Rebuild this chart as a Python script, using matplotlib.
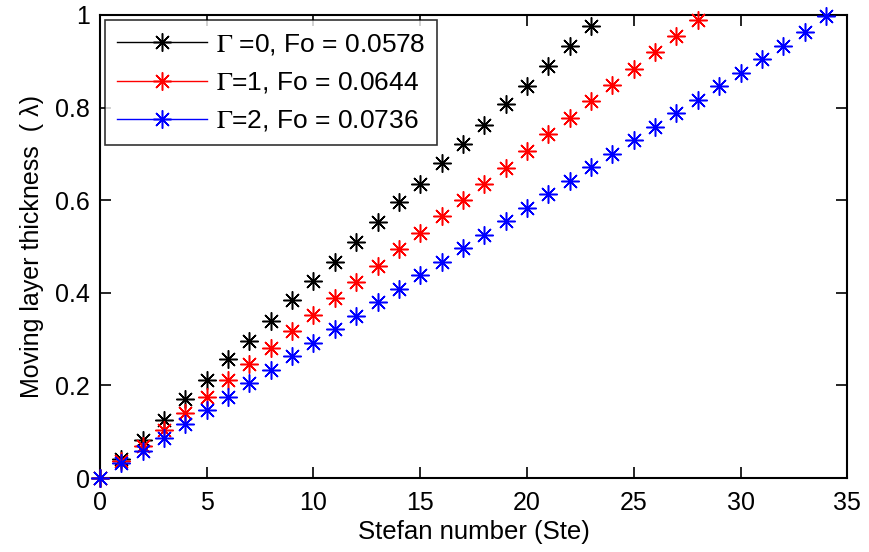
import matplotlib.pyplot as plt
from matplotlib.lines import Line2D

plt.rcParams['font.family'] = ['Liberation Sans', 'DejaVu Sans']
plt.rcParams['mathtext.fontset'] = 'stix'

ste_g0 = list(range(0, 24))
lam_g0 = [0.0, 0.041, 0.082, 0.125, 0.171, 0.212, 0.257, 0.296, 0.339, 0.384,
          0.425, 0.467, 0.510, 0.553, 0.596, 0.635, 0.680, 0.721, 0.762, 0.808,
          0.847, 0.890, 0.933, 0.976]

ste_g1 = list(range(0, 29))
lam_g1 = [0.0, 0.037, 0.069, 0.104, 0.140, 0.175, 0.212, 0.246, 0.281, 0.318,
          0.352, 0.389, 0.423, 0.458, 0.495, 0.529, 0.566, 0.600, 0.635, 0.670,
          0.706, 0.743, 0.778, 0.814, 0.849, 0.883, 0.920, 0.955, 0.990]

ste_g2 = list(range(0, 35))
lam_g2 = [0.0, 0.032, 0.058, 0.086, 0.117, 0.147, 0.175, 0.205, 0.233, 0.263,
          0.292, 0.322, 0.350, 0.380, 0.408, 0.438, 0.467, 0.497, 0.525, 0.555,
          0.583, 0.613, 0.641, 0.672, 0.700, 0.730, 0.758, 0.788, 0.816, 0.847,
          0.875, 0.905, 0.933, 0.963, 0.998]

labels = [r'$\Gamma$ =0, Fo = 0.0578',
          r'$\Gamma$=1, Fo = 0.0644',
          r'$\Gamma$=2, Fo = 0.0736']
colors = ['black', 'red', 'blue']

fig = plt.figure(figsize=(8.69, 5.52), dpi=100)
ax = fig.add_axes([0.115, 0.134, 0.86, 0.839])

asterisk = (8, 2, 0)
handles = []
for xs, ys, c, lab in zip([ste_g0, ste_g1, ste_g2], [lam_g0, lam_g1, lam_g2], colors, labels):
    ax.plot(xs, ys, linestyle='none', marker=asterisk, markersize=13,
            markeredgewidth=1.1, color=c, clip_on=False, zorder=3)
    handles.append(Line2D([], [], color=c, linewidth=1, marker=asterisk,
                          markersize=13, markeredgewidth=1.1, label=lab))

ax.set_xlim(0, 35)
ax.set_ylim(0, 1)
ax.set_xticks(range(0, 36, 5))
ax.set_yticks([0, 0.2, 0.4, 0.6, 0.8, 1])
ax.set_yticklabels(['0', '0.2', '0.4', '0.6', '0.8', '1'])
ax.tick_params(direction='in', top=True, right=True, labelsize=18,
               length=8, width=1.2)
ax.tick_params(axis='x', pad=9)
ax.tick_params(axis='y', pad=7)
for sp in ax.spines.values():
    sp.set_linewidth(1.5)

ax.set_xlabel('Stefan number (Ste)', fontsize=18.5, labelpad=4)
ax.set_ylabel('Moving layer thickness  ( \u03bb)', fontsize=18, labelpad=8)

leg = ax.legend(handles=handles, loc='upper left', fontsize=19, frameon=True,
                fancybox=False, edgecolor='black', handlelength=3.4,
                borderaxespad=0.2, labelspacing=0.5, borderpad=0.45,
                handletextpad=0.35)
leg.get_frame().set_linewidth(1.2)

fig.savefig('out.png', dpi=100)
